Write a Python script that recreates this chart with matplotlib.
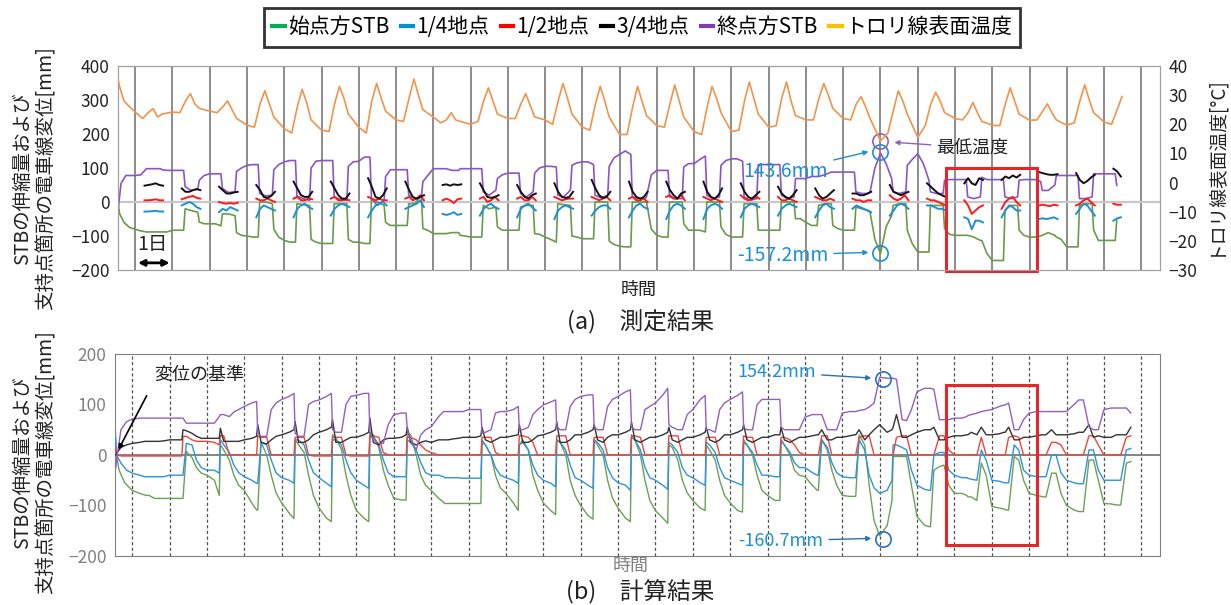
import numpy as np
import matplotlib
matplotlib.use("Agg")
import matplotlib.pyplot as plt
from matplotlib.lines import Line2D
from matplotlib.patches import Rectangle

plt.rcParams['font.family'] = ['Noto Sans CJK JP', 'DejaVu Sans']

# ---------------- data (x in days, y in mm / degC) ----------------
days = list(range(28))

# temperature, values per day at phases TPH
TPH = [0.0, 0.2, 0.35, 0.48, 0.6, 0.72]
temp_pre_t = [-0.46, -0.42, -0.3, -0.15]
temp_pre_v = [35.5, 33, 28, 26]
temp_days = [
    [24.2, 22.0, 24.0, 25.4, 22.5, 23.5], [24.2, 24.0, 28.0, 30.5, 27.0, 25.5],
    [24.5, 24.0, 26.0, 28.0, 25.0, 22.0], [19.7, 19.0, 27.0, 31.5, 27.0, 22.5],
    [18.5, 17.0, 26.0, 32.0, 27.5, 21.5], [18.0, 17.5, 27.0, 33.0, 29.0, 23.5],
    [19.0, 17.0, 28.0, 34.0, 29.0, 24.5], [21.5, 21.0, 29.0, 35.5, 30.0, 25.0],
    [22.5, 20.5, 21.5, 24.0, 21.5, 21.0], [20.0, 21.0, 28.0, 32.5, 28.0, 23.5],
    [22.0, 22.0, 27.0, 30.5, 26.5, 22.5], [21.5, 20.0, 28.0, 34.0, 29.0, 23.5],
    [19.0, 18.0, 27.0, 33.0, 28.0, 22.5], [16.5, 16.5, 26.0, 33.0, 28.0, 23.0],
    [19.5, 19.0, 27.0, 33.5, 28.0, 22.5], [17.5, 16.5, 26.0, 33.0, 29.0, 24.0],
    [17.5, 18.0, 28.0, 34.5, 29.0, 23.5], [19.0, 19.5, 29.0, 34.5, 28.0, 23.0],
    [21.5, 21.5, 29.0, 34.0, 30.0, 25.5], [22.0, 21.5, 27.0, 29.5, 26.0, 22.0],
    [14.3, 17.0, 25.0, 31.5, 28.0, 23.5], [15.5, 19.5, 27.0, 31.0, 28.0, 24.0],
    [22.0, 21.5, 24.0, 27.5, 24.0, 21.0], [19.7, 19.5, 27.0, 32.5, 28.0, 23.5],
    [21.4, 21.5, 24.5, 27.0, 24.0, 21.5], [19.7, 20.5, 28.0, 33.5, 28.5, 24.0],
    [20.8, 20.0, 25.0, 29.5],
]

# measured STB / displacement, values per day at phases PG
PG = [0.0, 0.15, 0.3, 0.34, 0.5, 0.68, 0.72, 0.85]
m_purple_pre_t = [-0.46, -0.43, -0.38, -0.25]
m_purple_pre_v = [-20, 5, 55, 78]
m_purple = [
    [78, 80, 98, 98, 98, 98, 95, 93], [93, 93, 93, 45, 34, 38, 64, 78],
    [83, 83, 83, 40, 28, 30, 90, 100], [108, 110, 110, 25, 18, 20, 95, 110],
    [118, 122, 122, 18, 10, 5, 100, 120], [122, 122, 122, 15, 8, 5, 105, 118],
    [120, 132, 132, 10, -10, 5, 75, 95], [95, 95, 95, 20, 10, 15, 60, 78],
    [98, 98, 98, 98, 93, 93, 98, 98], [98, 98, 98, 30, 20, 35, 69, 80],
    [85, 85, 85, 25, 15, 30, 85, 100], [105, 105, 103, 20, 15, 35, 108, 115],
    [118, 118, 110, 20, 12, 20, 105, 130], [140, 150, 140, 15, 10, 10, 15, 80],
    [93, 93, 93, 15, 10, 10, 103, 113], [113, 125, 135, 20, 10, 15, 108, 122],
    [127, 127, 120, 15, 5, 10, 110, 110], [110, 110, 110, 20, 10, 15, 69, 69],
    [69, 75, 75, 75, 80, 88, 88, 88], [88, 88, 88, 30, 25, 25, 30, 100],
    [144, 113, 69, 30, 25, 30, 108, 125], [142, 113, 64, 30, 25, 25, 64, 66],
    [66, 66, 66, 15, 10, 15, 73, 66], [66, 66, 66, 15, 10, 15, 64, 66],
    [66, 66, 60, 34, 34, 50, 78, 78], [78, 78, 78, 10, 10, 15, 83, 83],
    [83, 83, 83, 49],
]
m_green_pre_t = [-0.46, -0.42, -0.3, -0.15]
m_green_pre_v = [0, -34, -60, -75]
m_green = [
    [-80, -85, -88, -88, -88, -88, -88, -88], [-83, -83, -83, -20, -25, -30, -59, -64],
    [-64, -64, -70, -35, -35, -40, -90, -98], [-100, -103, -103, 0, 0, -5, -80, -103],
    [-113, -118, -118, -5, -8, -10, -110, -118], [-122, -122, -122, -5, -5, -5, -110, -118],
    [-118, -122, -122, 10, 0, -10, -60, -69], [-69, -69, -69, -5, -5, 20, -78, -83],
    [-93, -93, -93, -93, -90, -90, -98, -100], [-103, -103, -103, -10, -20, -15, -73, -83],
    [-83, -83, -83, -15, -10, -10, -93, -95], [-103, -110, -118, -5, -8, -10, -100, -103],
    [-108, -108, -108, 0, 0, 0, -115, -125], [-130, -132, -132, 0, 0, 0, 0, -80],
    [-98, -103, -103, 0, 0, 0, -64, -83], [-83, -83, -88, 0, 0, 0, -73, -95],
    [-103, -103, -103, -5, -5, -5, -83, -83], [-83, -83, -83, 0, 0, 0, -49, -49],
    [-60, -69, -69, -10, -5, -5, -69, -78], [-83, -83, -83, -15, -20, -25, -30, -110],
    [-152, -73, -40, -10, -5, -5, -83, -122], [-147, -147, -147, -10, -10, -10, -78, -95],
    [-98, -98, -98, -98, -103, -113, -113, -150], [-172, -172, -172, -24, -10, -10, -83, -98],
    [-103, -103, -100, -98, -90, -98, -103, -110], [-132, -132, -132, -10, -5, -5, -83, -113],
    [-113, -113, -113, -54],
]

# measured points that only exist in short windows, phases SPH
SPH = [0.25, 0.35, 0.45, 0.55, 0.65, 0.75]
m_black = [
    [48, 50, 52, 55, 50, 48], [40, 30, 30, 35, 38, 35], [45, 35, 25, 25, 28, 30],
    [50, 35, 15, 12, 18, 30], [60, 40, 20, 15, 15, 30], [60, 40, 20, 10, 10, 25],
    [70, 45, 15, 10, 20, 40], [60, 35, 15, 10, 15, 20], [50, 52, 48, 52, 50, 52],
    [55, 35, 15, 12, 15, 20], [50, 30, 15, 10, 20, 25], [55, 30, 15, 12, 15, 30],
    [65, 40, 20, 12, 15, 30], [60, 30, 15, 10, 15, 30], [60, 35, 20, 10, 25, 30],
    [60, 30, 15, 10, 20, 40], [55, 30, 15, 10, 20, 30], [45, 25, 15, 10, 20, 35],
    [40, 20, 10, 15, 25, 35], [25, 25, 20, 20, 25, 30], [50, 30, 25, 20, 25, 30],
    [55, 45, 35, 25, 20, 15], [55, 70, 55, 50, 70, 65], [65, 75, 70, 78, 72, 80],
    [88, 85, 82, 80, 80, 82], [85, 65, 55, 62, 72, 80], [98, 90, 75],
]
m_red = [
    [5, 5, 6, 8, 5, 5], [8, 12, 15, 18, 12, 10], [0, -3, -5, -3, -5, -2],
    [10, 5, 5, 10, 5, 0], [10, 15, 5, 5, 10, 8], [10, 15, 5, 5, 8, 5],
    [15, 10, 5, 10, 5, 5], [10, 15, 5, 10, 20, 5], [5, 10, 5, -3, 8, 10],
    [10, 15, 0, 5, 15, 5], [10, 15, 5, 5, 15, 5], [15, 10, 5, 8, 10, 10],
    [15, 10, 5, 10, 15, 5], [10, 15, 5, 5, 10, 0], [15, 20, 10, 10, 20, 5],
    [15, 10, 5, 10, 5, 0], [20, 10, 5, 8, 15, 10], [15, 5, 5, 10, 5, 0],
    [15, 10, 5, 5, 10, 5], [10, 5, 5, 0, 5, 5], [20, 10, 5, 10, 20, 5],
    [10, 5, 5, 0, -5, -10], [5, -10, -35, -25, -15, -10], [-20, 0, 10, 15, 0, -10],
    [-10, -8, -10, -12, -8, -10], [-10, -5, 5, 10, 0, -10], [-5, -8, -8],
]
m_blue = [
    [-28, -28, -27, -26, -28, -28], [-10, -5, 0, -5, -15, -20], [-30, -20, -25, -15, -20, -25],
    [-45, -20, -10, -15, -20, -25], [-45, -20, -10, -5, -15, -20], [-40, -20, -10, -5, -10, -15],
    [-45, -25, -10, -5, 0, -10], [-20, -15, -10, -5, 5, -15], [-35, -38, -35, -30, -38, -35],
    [-40, -20, -10, -5, -15, -20], [-45, -20, -10, -5, -15, -25], [-50, -25, -15, -10, -15, -20],
    [-40, -25, -15, -10, -10, -20], [-45, -25, -10, -5, -15, -20], [-50, -25, -10, -5, -10, -20],
    [-50, -20, -10, -5, -10, -20], [-45, -20, -10, -5, -10, -15], [-40, -20, -10, -5, -10, -15],
    [-45, -25, -10, -5, -15, -20], [-20, -10, -15, -20, -25, -30], [-40, -25, -10, -5, -10, -20],
    [-10, -10, -15, -20, -20, -25], [-45, -50, -80, -55, -55, -60], [-45, -25, -10, -15, -25, -25],
    [-50, -48, -50, -48, -45, -50], [-35, -20, -5, -10, -25, -40], [-55, -48, -45],
]

# calculated values, per day at phases BG
BG = [0.0, 0.2, 0.33, 0.36, 0.45, 0.6, 0.72, 0.85]
c_purple_pre_t = [-0.47, -0.44, -0.4, -0.3, -0.15]
c_purple_pre_v = [-26, -26, 0, 50, 66]
c_purple = [
    [71, 73, 73, 73, 73, 73, 73, 73], [73, 73, 73, 73, 63, 63, 63, 63],
    [63, 63, 76, 80, 80, 76, 85, 90], [96, 103, 106, 43, 37, 37, 90, 103],
    [110, 116, 122, 43, 37, 37, 100, 106], [109, 116, 122, 50, 45, 45, 100, 116],
    [118, 122, 122, 43, 30, 23, 23, 60], [80, 83, 83, 50, 30, 10, 40, 50],
    [56, 76, 86, 86, 86, 86, 86, 86], [90, 90, 90, 43, 45, 50, 83, 86],
    [86, 90, 96, 50, 50, 55, 80, 90], [99, 105, 109, 56, 50, 50, 96, 110],
    [116, 119, 119, 56, 50, 50, 96, 110], [116, 125, 129, 56, 50, 50, 90, 96],
    [103, 119, 132, 60, 55, 50, 50, 80], [90, 110, 118, 50, 50, 45, 90, 103],
    [110, 118, 125, 55, 50, 50, 100, 110], [110, 110, 110, 56, 50, 50, 50, 50],
    [75, 80, 80, 80, 80, 50, 50, 50], [83, 86, 86, 86, 88, 90, 95, 103],
    [154, 152, 152, 152, 150, 70, 68, 90], [125, 132, 132, 132, 130, 70, 70, 70],
    [73, 73, 76, 78, 80, 83, 86, 88], [90, 96, 99, 99, 103, 50, 50, 70],
    [83, 86, 86, 86, 86, 86, 86, 86], [86, 100, 109, 109, 109, 56, 50, 50],
    [90, 93, 93, 93, 93, 93, 83],
]
c_green_pre_t = [-0.47, -0.45, -0.42, -0.35, -0.2]
c_green_pre_v = [50, 50, 0, -30, -55]
c_green = [
    [-70, -76, -79, -80, -80, -86, -86, -86], [-86, -86, -86, -86, 7, -5, -25, -36],
    [-40, -50, -80, 20, 10, -10, -40, -60], [-70, -95, -109, -109, 25, 0, -40, -75],
    [-95, -115, -126, 30, 20, 5, -40, -80], [-105, -125, -132, 40, 35, 10, -40, -80],
    [-110, -125, -132, 45, 40, 15, -30, -60], [-86, -89, -89, 45, 40, 0, -40, -60],
    [-70, -86, -93, -96, -96, -96, -96, -96], [-96, -96, -96, 30, 20, 0, -40, -65],
    [-76, -95, -110, 20, 30, 10, -40, -70], [-95, -110, -118, 30, 25, 0, -50, -80],
    [-100, -120, -127, 30, 20, 0, -50, -85], [-105, -125, -132, 40, 30, 0, -50, -90],
    [-110, -125, -135, 20, 15, -10, -50, -75], [-90, -105, -110, 20, 10, -10, -50, -80],
    [-95, -110, -113, 30, 20, 0, -40, -70], [-80, -90, -90, 30, 20, 0, -30, -40],
    [-43, -60, -70, -70, 30, 10, -30, -60], [-80, -82, -82, -82, 40, 20, -60, -130],
    [-160, -140, -90, -3, -3, -3, -3, -60], [-122, -139, -142, -142, -30, -23, -20, -60],
    [-76, -76, -80, -83, -83, -90, -16, -40], [-102, -105, -107, -109, -109, -3, -10, -50],
    [-76, -80, -82, -83, -83, -36, -36, -76], [-100, -109, -112, -112, -112, -10, -10, -50],
    [-96, -97, -99, -99, -99, -16, -13],
]
c_blue_pre_t = [-0.47, -0.45, -0.42, -0.3, -0.15]
c_blue_pre_v = [35, 35, 0, -16, -30]
c_blue = [
    [-36, -40, -43, -43, -43, -43, -43, -43], [-40, -40, -40, -40, 23, 20, -10, -25],
    [-30, -30, -36, 30, 20, 5, -20, -35], [-43, -50, -56, -56, 25, 20, -10, -35],
    [-45, -50, -56, 30, 30, 20, -10, -35], [-45, -56, -63, 30, 30, 20, -10, -35],
    [-50, -60, -66, 37, 35, 20, -10, -35], [-43, -43, -43, 30, 25, 10, -15, -35],
    [-40, -40, -43, -45, -45, -45, -45, -46], [-46, -46, -46, 25, 20, 0, -25, -40],
    [-45, -50, -56, 20, 25, 10, -20, -40], [-50, -56, -63, 30, 25, 10, -20, -45],
    [-50, -60, -66, 30, 25, 10, -25, -45], [-55, -60, -70, 35, 30, 10, -25, -45],
    [-50, -60, -68, 25, 20, 5, -25, -40], [-45, -55, -60, 25, 20, 5, -25, -45],
    [-50, -56, -60, 25, 20, 5, -20, -40], [-40, -43, -43, 30, 20, 5, -15, -25],
    [-25, -35, -40, -40, 30, 15, -15, -35], [-43, -45, -45, -45, 30, 10, -40, -65],
    [-76, -70, -50, 20, 20, 15, 10, -30], [-60, -68, -70, -70, 0, 5, 5, -30],
    [-40, -45, -45, -46, -48, -50, 10, -10], [-50, -52, -55, -55, -55, 20, 10, -30],
    [-40, -43, -43, -43, -43, 0, 0, -35], [-50, -55, -57, -57, -57, 10, 10, -30],
    [-50, -50, -50, -50, -50, 10, 13],
]
c_red_pre_t = [-0.47, -0.45, -0.42, -0.3]
c_red_pre_v = [13, 13, 0, -2]
c_red = [
    [-2, -2, -2, -2, -2, -2, -2, -2], [-2, -2, -2, 37, 37, 30, 27, 27],
    [27, 25, 20, 38, 38, 0, 0, 0], [0, 0, 0, 38, 35, 35, 0, 0],
    [0, 0, 0, 35, 35, 35, 0, -2], [-2, -2, -2, 35, 35, 35, 0, -2],
    [-2, -2, -2, 38, 38, 35, 5, 0], [0, 0, 0, 35, 35, 30, 20, 10],
    [5, 0, 0, 0, 0, 0, 0, 0], [0, 0, 0, 35, 35, 35, 5, 0],
    [0, 0, 0, 38, 38, 35, 25, 0], [0, 0, 0, 38, 38, 38, 0, 0],
    [0, 0, 0, 35, 35, 35, 0, 0], [0, 0, 0, 38, 38, 35, 0, 0],
    [0, 0, 0, 38, 38, 38, 0, 0], [0, 0, 0, 35, 35, 35, 0, 0],
    [0, 0, 0, 38, 35, 35, 0, 0], [0, 0, 0, 35, 35, 30, 20, 5],
    [0, 0, 0, 0, 38, 38, 0, 0], [0, 0, 0, 0, 35, 38, 38, 0],
    [0, 0, 0, 0, 35, 38, 38, 0], [0, 0, 0, 0, 0, 38, 38, 10],
    [0, 0, 0, 0, 0, 0, 35, 0], [0, 0, 0, 0, 35, 38, 35, 0],
    [0, 0, 0, 0, 0, 25, 25, 20], [0, 0, 0, 0, 0, 38, 38, 20],
    [0, 0, 0, 0, 0, 35, 38],
]
c_black_pre_t = [-0.47, -0.44, -0.4, -0.3, -0.15]
c_black_pre_v = [0, 0, 5, 15, 20]
c_black = [
    [23, 25, 27, 27, 27, 27, 27, 28], [30, 30, 30, 50, 48, 43, 37, 33],
    [33, 33, 33, 53, 27, 27, 27, 27], [30, 33, 37, 60, 25, 22, 30, 37],
    [40, 45, 50, 66, 25, 25, 30, 40], [45, 50, 55, 70, 25, 25, 30, 35],
    [35, 40, 45, 73, 25, 20, 30, 33], [33, 35, 40, 55, 25, 20, 25, 28],
    [25, 30, 30, 30, 30, 32, 33, 35], [35, 35, 38, 55, 30, 25, 30, 35],
    [35, 38, 40, 60, 25, 25, 30, 38], [40, 45, 50, 65, 25, 25, 30, 40],
    [40, 45, 50, 60, 30, 25, 35, 40], [40, 45, 50, 65, 30, 25, 30, 35],
    [35, 40, 45, 55, 30, 25, 30, 35], [35, 40, 45, 55, 30, 25, 30, 40],
    [40, 45, 50, 60, 30, 25, 30, 35], [35, 40, 40, 55, 30, 25, 30, 35],
    [35, 38, 40, 40, 50, 30, 30, 35], [35, 38, 40, 40, 50, 30, 40, 50],
    [60, 45, 50, 55, 80, 35, 35, 40], [45, 50, 50, 50, 55, 30, 30, 35],
    [38, 38, 40, 40, 45, 40, 55, 40], [40, 42, 45, 45, 55, 30, 30, 35],
    [35, 38, 40, 40, 40, 50, 40, 40], [40, 42, 45, 45, 45, 60, 35, 38],
    [35, 35, 40, 40, 40, 40, 55],
]


def series(pre_t, pre_v, rows, phases):
    t = list(pre_t)
    v = list(pre_v)
    for d, row in enumerate(rows):
        for p, val in zip(phases, row):
            t.append(d + p)
            v.append(val)
    return np.array(t), np.array(v, dtype=float)


def segments(rows, phases):
    t, v = [], []
    for d, row in enumerate(rows):
        for p, val in zip(phases, row):
            t.append(d + p)
            v.append(val)
        t.append(np.nan)
        v.append(np.nan)
    return np.array(t), np.array(v, dtype=float)


# ---------------- figure ----------------
fig = plt.figure(figsize=(12.31, 6.05), dpi=100)
ax1 = fig.add_axes([0.0959, 0.5537, 0.8464, 0.3372])
ax3 = fig.add_axes([0.0934, 0.0810, 0.8489, 0.3339])
XL = (-0.46, 27.5)

# top: measured
for d in days:
    ax1.axvline(d, color='#6e6e6e', lw=1.1, zorder=1)
ax1.axhline(0, color='#c8c8c8', lw=1.6, zorder=1)
t, v = series(m_green_pre_t, m_green_pre_v, m_green, PG)
ax1.plot(t, v, color='#6a9a4a', lw=1.2, zorder=3)
t, v = series(m_purple_pre_t, m_purple_pre_v, m_purple, PG)
ax1.plot(t, v, color='#8a55c8', lw=1.2, zorder=3)
t, v = segments(m_blue, SPH)
ax1.plot(t, v, color='#1e8fd5', lw=1.4, zorder=4)
t, v = segments(m_red, SPH)
ax1.plot(t, v, color='#ff1a1a', lw=1.4, zorder=4)
t, v = segments(m_black, SPH)
ax1.plot(t, v, color='#111111', lw=1.4, zorder=4)
ax1.set_xlim(*XL)
ax1.set_ylim(-200, 400)
ax1.set_yticks(range(-200, 401, 100))
ax1.set_xticks([])
ax1.tick_params(axis='y', length=0, labelsize=12.5, pad=6, labelcolor='#222222')
for s in ax1.spines.values():
    s.set_color('#a0a0a0')

ax2 = ax1.twinx()
t, v = series(temp_pre_t, temp_pre_v, temp_days, TPH)
ax2.plot(t, v, color='#f0944c', lw=1.2, zorder=3)
ax2.set_ylim(-30, 40)
ax2.set_yticks(range(-30, 41, 10))
ax2.tick_params(axis='y', length=0, labelsize=12.5, pad=6, labelcolor='#222222')
for s in ax2.spines.values():
    s.set_color('#a0a0a0')
ax2.set_xlim(*XL)

# annotations top (drawn on ax1 coordinates)
ax1.plot([20.0], [146], 'o', ms=11, mfc='none', mec='#1e8fd5', mew=1.2, zorder=6)
ax1.plot([20.0], [-150], 'o', ms=11, mfc='none', mec='#1e8fd5', mew=1.2, zorder=6)
ax1.plot([20.0], [178], 'o', ms=11, mfc='none', mec='#9060c0', mew=1.2, zorder=6)
ax1.annotate('143.6mm', xy=(19.75, 150), xytext=(18.6, 90), color='#1e8fd5', fontsize=14,
             ha='right', va='center',
             arrowprops=dict(arrowstyle='-|>', color='#1e8fd5', lw=1, mutation_scale=7))
ax1.annotate('-157.2mm', xy=(19.75, -148), xytext=(18.6, -156), color='#1e8fd5', fontsize=14,
             ha='right', va='center',
             arrowprops=dict(arrowstyle='-|>', color='#1e8fd5', lw=1, mutation_scale=7))
ax1.annotate('最低温度', xy=(20.3, 176), xytext=(21.5, 160), color='#222222', fontsize=13,
             ha='left', va='center',
             arrowprops=dict(arrowstyle='-|>', color='#9060c0', lw=1, mutation_scale=7))
ax1.add_patch(Rectangle((21.75, -204), 2.45, 304, fill=False, ec='#e8262a', lw=2.2,
                        clip_on=False, zorder=7))
ax1.annotate('', xy=(0.0, -179), xytext=(1.0, -179),
             arrowprops=dict(arrowstyle='<|-|>', color='black', lw=2, mutation_scale=9))
ax1.text(0.47, -126, '1日', fontsize=14, ha='center', va='center', color='#222222')

# bottom: calculated
for d in days:
    ax3.axvline(d, color='#505050', lw=0.9, ls=(0, (2.5, 2)), zorder=1)
ax3.axhline(0, color='#707070', lw=1.2, zorder=1)
bottom = [(c_green_pre_t, c_green_pre_v, c_green, '#6e9e58'),
          (c_blue_pre_t, c_blue_pre_v, c_blue, '#2e94d8'),
          (c_red_pre_t, c_red_pre_v, c_red, '#f0463a'),
          (c_black_pre_t, c_black_pre_v, c_black, '#333333'),
          (c_purple_pre_t, c_purple_pre_v, c_purple, '#9060c0')]
for pt, pv, rows, col in bottom:
    t, v = series(pt, pv, rows, BG)
    ax3.plot(t, v, color=col, lw=1.0, zorder=3)
ax3.set_xlim(*XL)
ax3.set_ylim(-200, 200)
ax3.set_yticks(range(-200, 201, 100))
ax3.set_xticks([])
ax3.tick_params(axis='y', length=0, labelsize=12.5, pad=6, labelcolor='#808080')
for s in ax3.spines.values():
    s.set_color('#808080')

ax3.plot([20.1], [150], 'o', ms=11, mfc='none', mec='#2a70b8', mew=1.2, zorder=6)
ax3.plot([20.1], [-166], 'o', ms=11, mfc='none', mec='#2a70b8', mew=1.2, zorder=6)
ax3.annotate('154.2mm', xy=(19.85, 152), xytext=(18.3, 164), color='#1e8fd5', fontsize=13,
             ha='right', va='center',
             arrowprops=dict(arrowstyle='-|>', color='#2a70b8', lw=1, mutation_scale=7))
ax3.annotate('-160.7mm', xy=(19.85, -165), xytext=(18.5, -170), color='#1e8fd5', fontsize=13,
             ha='right', va='center',
             arrowprops=dict(arrowstyle='-|>', color='#2a70b8', lw=1, mutation_scale=7))
ax3.annotate('変位の基準', xy=(-0.4, 6), xytext=(0.6, 158), color='#222222', fontsize=13,
             ha='left', va='center',
             arrowprops=dict(arrowstyle='-|>', color='black', lw=1.2, mutation_scale=7,
                             relpos=(0, 0.2), shrinkA=8))
ax3.add_patch(Rectangle((21.77, -178), 2.44, 317, fill=False, ec='#e8262a', lw=2.2, zorder=7))

# texts
ylab = 'STBの伸縮量および\n支持点箇所の電車線変位[mm]'
fig.text(0.028, 0.705, ylab, rotation=90, ha='center', va='center', fontsize=14,
         linespacing=1.2, color='#222222')
fig.text(0.028, 0.236, ylab, rotation=90, ha='center', va='center', fontsize=14,
         linespacing=1.2, color='#222222')
fig.text(0.986, 0.727, 'トロリ線表面温度[°C]', rotation=90, ha='center', va='center',
         fontsize=13.5, color='#222222')
fig.text(0.519, 0.521, '時間', ha='center', va='center', fontsize=13, color='#222222')
fig.text(0.512, 0.065, '時間', ha='center', va='center', fontsize=13, color='#808080')
fig.text(0.52, 0.467, '(a)\u3000測定結果', ha='center', va='center', fontsize=17, color='#222222')
fig.text(0.52, 0.021, '(b)\u3000計算結果', ha='center', va='center', fontsize=17, color='#222222')

# legend
leg_labels = ['始点方STB', '1/4地点', '1/2地点', '3/4地点', '終点方STB', 'トロリ線表面温度']
leg_colors = ['#00b050', '#0090d8', '#ff0000', '#000000', '#7a40b0', '#ffc000']
handles = [Line2D([0], [0], color=c, lw=3) for c in leg_colors]
leg = fig.legend(handles, leg_labels, loc='center', bbox_to_anchor=(0.5215, 0.955), ncol=6,
                 frameon=True, fancybox=False, edgecolor='black', fontsize=15,
                 handlelength=0.6, handletextpad=0.15, columnspacing=0.55,
                 borderpad=0.4)
leg.get_frame().set_linewidth(2)

fig.savefig('out.png', dpi=100)
